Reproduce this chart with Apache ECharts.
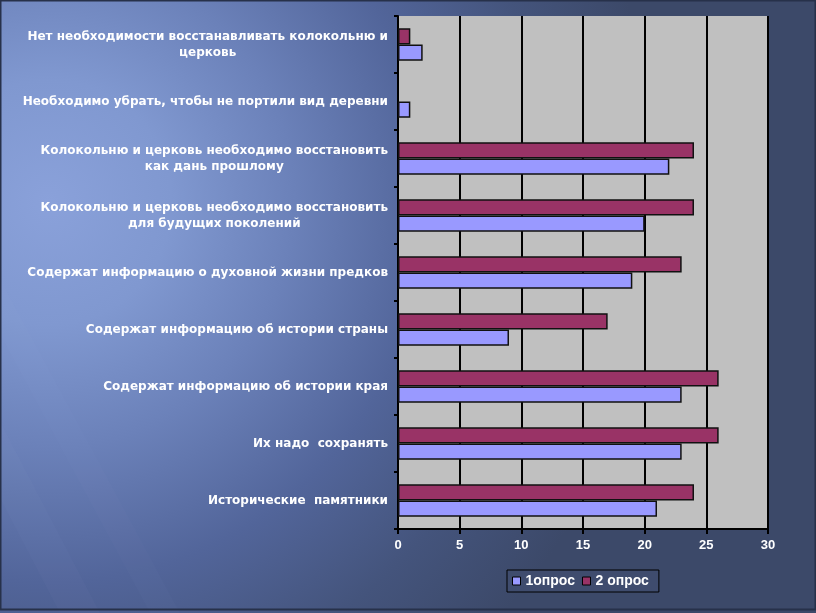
<!DOCTYPE html>
<html>
<head>
<meta charset="utf-8">
<script src="https://cdn.jsdelivr.net/npm/echarts@6/dist/echarts.min.js"></script>
<style>
html,body{margin:0;padding:0;width:816px;height:613px;overflow:hidden;}
#chart{width:816px;height:613px;}
</style>
</head>
<body>
<div id="chart"></div>
<script>
// Data (bottom category first)
const categories = [
  "Исторические  памятники",
  "Их надо  сохранять",
  "Содержат информацию об истории края",
  "Содержат информацию об истории страны",
  "Содержат информацию о духовной жизни предков",
  "Колокольню и церковь необходимо восстановить\nдля будущих поколений",
  "Колокольню и церковь необходимо восстановить\nкак дань прошлому",
  "Необходимо убрать, чтобы не портили вид деревни",
  "Нет необходимости восстанавливать колокольню и\nцерковь"
];
const seriesNames = ["1опрос", "2 опрос"];
const survey1 = [21, 23, 23, 9, 19, 20, 22, 1, 2];
const survey2 = [24, 26, 26, 17, 23, 24, 24, null, 1];
const xTicks = [0, 5, 10, 15, 20, 25, 30];

const chart = echarts.init(document.getElementById('chart'), null, {renderer: 'canvas'});
const FONT = '"Liberation Sans", Arial, sans-serif';
const LFONT = '"DejaVu Sans", Verdana, sans-serif';

function streak(x1, x2, w, op) {
  return {
    type: 'polygon', z: -9, silent: true,
    shape: {points: [[x1, 0], [x1 + w, 0], [x2 + w, 613], [x2, 613]]},
    style: {fill: 'rgba(200,215,255,' + op + ')'}
  };
}

const option = {
  animation: false,
  graphic: [
    {
      type: 'rect', z: -10, silent: true,
      shape: {x: 0, y: 0, width: 816, height: 613},
      style: {
        fill: new echarts.graphic.RadialGradient(0.06, 0.33, 1.0, [
          {offset: 0, color: '#8aa1da'},
          {offset: 0.2, color: '#8098d0'},
          {offset: 0.4, color: '#6b81b9'},
          {offset: 0.62, color: '#52659a'},
          {offset: 0.82, color: '#44547c'},
          {offset: 1, color: '#3c4969'}
        ])
      }
    },
    streak(-260, 60, 40, 0.025),
    streak(-180, 150, 30, 0.02),
    {
      type: 'rect', z: -8, silent: true,
      shape: {x: 0.5, y: 0.5, width: 815, height: 609},
      style: {fill: 'none', stroke: '#27314a', lineWidth: 2}
    }
  ],
  grid: {
    left: 398, right: 48, top: 16, bottom: 84,
    show: true, backgroundColor: '#c0c0c0', borderWidth: 0,
    containLabel: false
  },
  legend: {
    data: seriesNames,
    left: 507, top: 570,
    orient: 'horizontal',
    padding: [4, 10, 4, 5],
    itemGap: 7,
    itemWidth: 8, itemHeight: 8,
    icon: 'rect',
    borderColor: '#000', borderWidth: 1,
    backgroundColor: '#3f4c6e',
    itemStyle: {borderColor: '#000', borderWidth: 1},
    textStyle: {color: '#fff', fontWeight: 'bold', fontSize: 14, fontFamily: FONT}
  },
  xAxis: {
    type: 'value', min: 0, max: 30, interval: 5,
    axisLine: {show: true, lineStyle: {color: '#000', width: 2}},
    axisTick: {show: true, length: 5, lineStyle: {color: '#000', width: 2}},
    splitLine: {show: true, lineStyle: {color: '#000', width: 2}},
    axisLabel: {
      color: '#fff', fontWeight: 'bold', fontSize: 13, fontFamily: FONT, margin: 10,
      formatter: function (v) { return xTicks.indexOf(v) >= 0 ? String(v) : ''; }
    }
  },
  yAxis: {
    type: 'category', data: categories,
    axisLine: {show: true, lineStyle: {color: '#000', width: 2}},
    axisTick: {show: true, length: 4, lineStyle: {color: '#000', width: 2}},
    splitLine: {show: false},
    axisLabel: {
      margin: 10, align: 'right',
      formatter: function (v) {
        return v.split('\n').map(s => '{c|' + s + '}').join('\n');
      },
      rich: {
        c: {color: '#fff', fontWeight: 'bold', fontSize: 12, fontFamily: LFONT, lineHeight: 16, align: 'center'}
      }
    }
  },
  series: [
    {
      name: seriesNames[1], type: 'bar', data: survey2,
      barGap: '0%', barCategoryGap: '43%',
      itemStyle: {color: '#993366', borderColor: '#111', borderWidth: 1.5}
    },
    {
      name: seriesNames[0], type: 'bar', data: survey1,
      barGap: '0%', barCategoryGap: '43%',
      itemStyle: {color: '#9999ff', borderColor: '#111', borderWidth: 1.5}
    }
  ]
};
chart.setOption(option);
</script>
</body>
</html>
